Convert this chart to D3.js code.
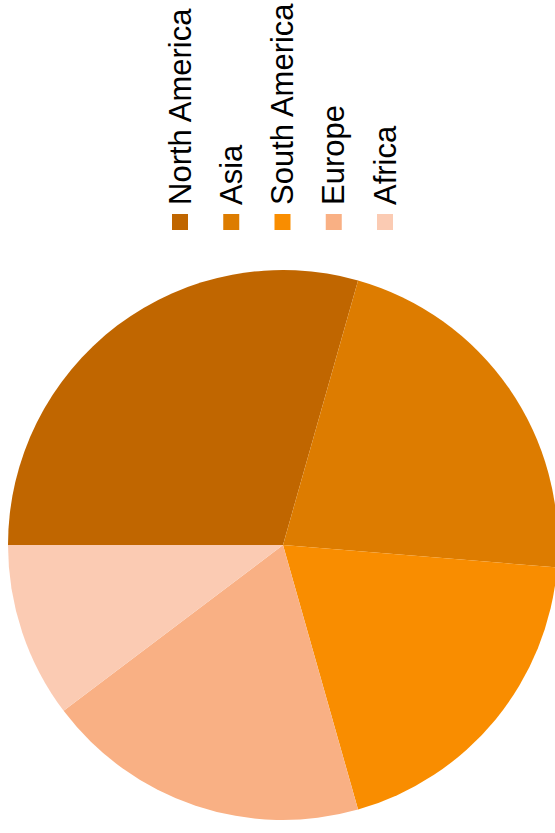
<!DOCTYPE html>
<html>
<head>
<meta charset="utf-8">
<script src="https://cdn.jsdelivr.net/npm/d3@7"></script>
<style>
  html, body { margin: 0; padding: 0; background: #fff; }
  svg { display: block; }
</style>
</head>
<body>
<svg id="chart" width="555" height="833"></svg>
<script>
// Share of total by region
const regions = ["North America", "Asia", "South America", "Europe", "Africa"];
const shares = [29.4, 21.9, 19.3, 19.1, 10.3];
const regionColors = ["#c06600", "#dd7c00", "#f98d00", "#f9b084", "#fbcbb3"];

const width = 555, height = 833;
const svg = d3.select("#chart");

const color = d3.scaleOrdinal().domain(regions).range(regionColors);

const data = regions.map((r, i) => ({ region: r, value: shares[i] }));

// Pie, laid on its side: first slice begins at 9 o'clock
const pie = d3.pie()
  .sort(null)
  .value(d => d.value)
  .startAngle(-Math.PI / 2)
  .endAngle(Math.PI * 1.5);

const radius = 275;
const arc = d3.arc().innerRadius(0).outerRadius(radius);

const g = svg.append("g").attr("transform", "translate(283,545)");
g.selectAll("path")
  .data(pie(data))
  .join("path")
  .attr("d", arc)
  .attr("fill", d => color(d.data.region));

// Legend: swatches in a row, labels running upward
const legendX = d3.scalePoint().domain(regions).range([180, 385]);
const legend = svg.append("g");
const item = legend.selectAll("g")
  .data(regions)
  .join("g")
  .attr("transform", d => `translate(${legendX(d)},0)`);

item.append("rect")
  .attr("x", -8)
  .attr("y", 214)
  .attr("width", 16)
  .attr("height", 16)
  .attr("fill", d => color(d));

item.append("text")
  .attr("transform", "translate(0,205) rotate(-90)")
  .attr("text-anchor", "start")
  .attr("dominant-baseline", "central")
  .attr("font-family", "Liberation Sans, Arial, sans-serif")
  .attr("font-size", 31)
  .attr("fill", "#000")
  .text(d => d);
</script>
</body>
</html>
